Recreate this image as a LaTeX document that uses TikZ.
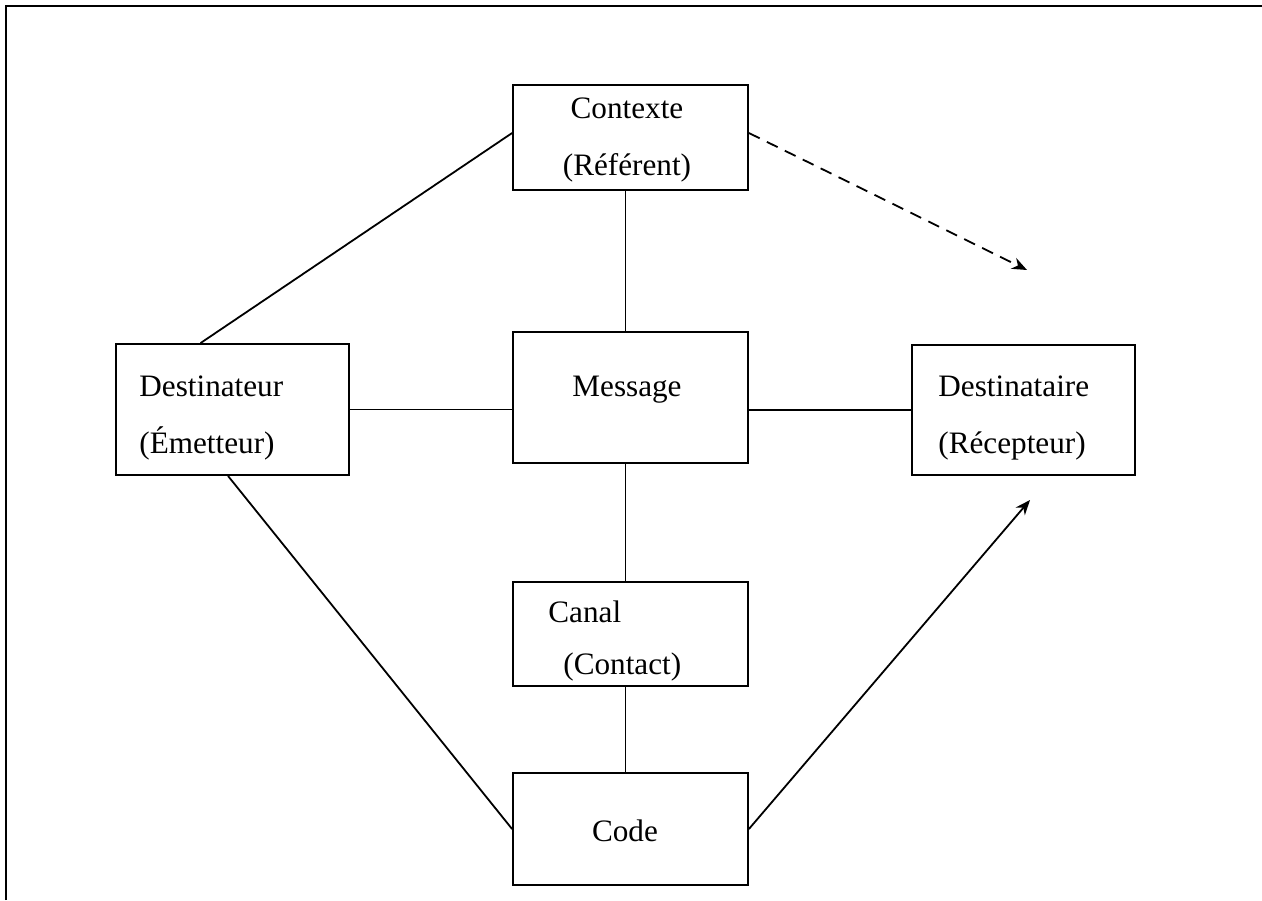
\documentclass[tikz,border=0pt]{standalone}
\usepackage{fontspec}
\setmainfont{Liberation Serif}
\usetikzlibrary{arrows.meta,positioning}

\tikzset{
  box/.style={draw, line width=0.9pt, rectangle, inner sep=0pt},
  txt/.style={font=\fontsize{15.6}{28.5}\selectfont, inner sep=0pt},
  link/.style={line width=0.9pt},
  arr/.style={-{Stealth[length=7.5pt,width=6pt]}},
}

\begin{document}
\begin{tikzpicture}[x=0.5pt,y=-0.5pt]
\useasboundingbox (0,0) rectangle (1262,900);
% outer frame (left and top only)
\draw[line width=1.2pt] (6,900) -- (6,6) -- (1262,6);

% boxes
\node[box, minimum width=117.5pt, minimum height=52.5pt] (ctx) at (630.5,137.5) {};
\node[box, minimum width=117.5pt, minimum height=65.5pt] (msg) at (630.5,397.5) {};
\node[box, minimum width=116.5pt, minimum height=65.5pt] (dst) at (232.5,409.5) {};
\node[box, minimum width=111.5pt, minimum height=65pt] (dsr) at (1023.5,410) {};
\node[box, minimum width=117.5pt, minimum height=52pt] (canal) at (630.5,634) {};
\node[box, minimum width=117.5pt, minimum height=56pt] (code) at (630.5,829) {};

% texts
\node[txt, align=center] (ctxtxt) at (627,140) {Contexte\\(Référent)};
\node[txt] (msgtxt) at (627,390) {Message};
\node[txt, align=left, anchor=west] (dsttxt) at (139,418) {Destinateur\\(Émetteur)};
\node[txt, align=left, anchor=west] (dsrtxt) at (938,418) {Destinataire\\(Récepteur)};
\node[txt, align=left, anchor=west] (canaltxt) at (548,641) {Canal\\[-2.5pt]\hspace*{7.5pt}(Contact)};
\node[txt] (codetxt) at (625,831) {Code};

% free ends of the two arrows
\coordinate (dashend) at (1027,270);
\coordinate (solidend) at (1030,500);

% connectors
\draw[link] ([yshift=2.25pt]ctx.west) -- ([xshift=-16pt]dst.north);
\draw[link, arr, dash pattern=on 6pt off 4pt] ([yshift=2.25pt]ctx.east) -- (dashend);
\draw[link] ([xshift=-2.5pt]ctx.south) -- ([xshift=-2.5pt]msg.north);
\draw[link] (dst.east) -- (dst.east -| msg.west);
\draw[link] (dsr.west -| msg.east) -- (dsr.west);
\draw[link] ([xshift=-2.5pt]msg.south) -- ([xshift=-2.5pt]canal.north);
\draw[link] ([xshift=-2.5pt]canal.south) -- ([xshift=-2.5pt]code.north);
\draw[link] ([xshift=-2.25pt]dst.south) -- (code.west);
\draw[link, arr] (code.east) -- (solidend);
\end{tikzpicture}
\end{document}
